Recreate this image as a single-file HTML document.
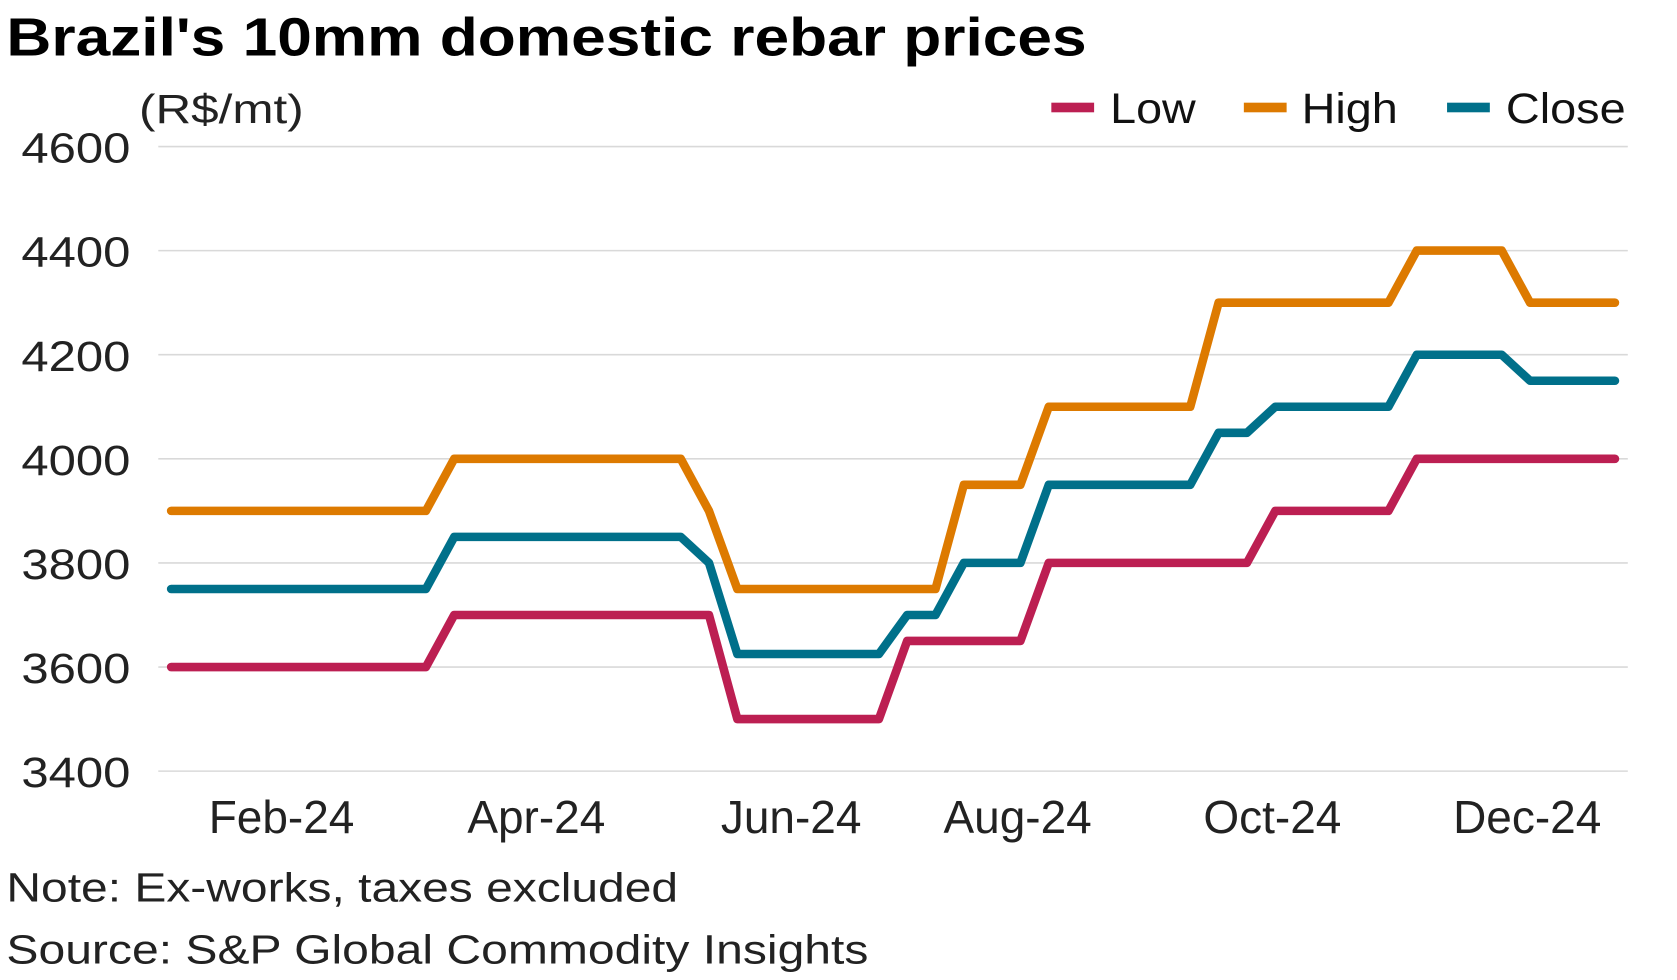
<!DOCTYPE html>
<html><head><meta charset="utf-8">
<style>
html,body{margin:0;padding:0;background:#fff;}
svg{display:block;font-family:"Liberation Sans",sans-serif;}
</style></head>
<body>
<svg id="chart" width="1677" height="980" viewBox="0 0 1568 916.3" xmlns="http://www.w3.org/2000/svg">
<text x="6" y="52" font-size="50" font-weight="bold" fill="#000" textLength="1010" lengthAdjust="spacingAndGlyphs">Brazil's 10mm domestic rebar prices</text>
<text x="130" y="115" font-size="38" fill="#222" textLength="154" lengthAdjust="spacingAndGlyphs">(R$/mt)</text>
<g>
<g><rect x="983" y="96" width="40" height="9" fill="#BC1F52"/><text x="1038" y="115" font-size="40" fill="#111" textLength="80" lengthAdjust="spacingAndGlyphs">Low</text></g>
<g><rect x="1163" y="96" width="40" height="9" fill="#DD7A00"/><text x="1217" y="115" font-size="40" fill="#111" textLength="90" lengthAdjust="spacingAndGlyphs">High</text></g>
<g><rect x="1353" y="96" width="40" height="9" fill="#00708A"/><text x="1408" y="115" font-size="40" fill="#111" textLength="112" lengthAdjust="spacingAndGlyphs">Close</text></g>
</g>
<g id="grid"></g>
<g id="yaxis"></g>
<g id="xaxis"></g>
<g id="series"></g>
<text x="6" y="843" font-size="38" fill="#222" textLength="628" lengthAdjust="spacingAndGlyphs">Note: Ex-works, taxes excluded</text>
<text x="6" y="901" font-size="38" fill="#222" textLength="806" lengthAdjust="spacingAndGlyphs">Source: S&amp;P Global Commodity Insights</text>
</svg>
<script>
const yTicks = [3400,3600,3800,4000,4200,4400,4600];
const xTickLabels = ["Feb-24","Apr-24","Jun-24","Aug-24","Oct-24","Dec-24"];
const xTickIndex = [3.9,12.9,21.9,29.9,38.9,47.9];
const lowValues = [3600,3600,3600,3600,3600,3600,3600,3600,3600,3600,3700,3700,3700,3700,3700,3700,3700,3700,3700,3700,3500,3500,3500,3500,3500,3500,3650,3650,3650,3650,3650,3800,3800,3800,3800,3800,3800,3800,3800,3900,3900,3900,3900,3900,4000,4000,4000,4000,4000,4000,4000,4000];
const highValues = [3900,3900,3900,3900,3900,3900,3900,3900,3900,3900,4000,4000,4000,4000,4000,4000,4000,4000,4000,3900,3750,3750,3750,3750,3750,3750,3750,3750,3950,3950,3950,4100,4100,4100,4100,4100,4100,4300,4300,4300,4300,4300,4300,4300,4400,4400,4400,4400,4300,4300,4300,4300];
const closeValues = [3750,3750,3750,3750,3750,3750,3750,3750,3750,3750,3850,3850,3850,3850,3850,3850,3850,3850,3850,3800,3625,3625,3625,3625,3625,3625,3700,3700,3800,3800,3800,3950,3950,3950,3950,3950,3950,4050,4050,4100,4100,4100,4100,4100,4200,4200,4200,4200,4150,4150,4150,4150];

const NS="http://www.w3.org/2000/svg";
const x0=160,x1=1510,plotL=148,plotR=1522;
const n=lowValues.length;
function xs(i){return x0+i*(x1-x0)/(n-1);}
function ys(v){return 721-(v-3400)*(721-137)/1200;}
const grid=document.getElementById('grid'),yax=document.getElementById('yaxis'),xax=document.getElementById('xaxis'),ser=document.getElementById('series');
yTicks.forEach(v=>{
  const l=document.createElementNS(NS,'line');
  
  
  l.setAttribute('x1',plotL);l.setAttribute('x2',plotR);l.setAttribute('y1',ys(v));l.setAttribute('y2',ys(v));
  l.setAttribute('stroke','#d9d9d9');l.setAttribute('stroke-width','1.5');
  grid.appendChild(l);
  const t=document.createElementNS(NS,'text');
  
  
  t.setAttribute('x',20);t.setAttribute('y',ys(v)+15);
  t.setAttribute('textLength','102');t.setAttribute('lengthAdjust','spacingAndGlyphs');
  t.setAttribute('font-size','40');t.setAttribute('fill','#222');t.textContent=v;
  yax.appendChild(t);
});
xTickLabels.forEach((s,k)=>{
  const t=document.createElementNS(NS,'text');
  
  
  t.setAttribute('x',xs(xTickIndex[k]));t.setAttribute('y',779);t.setAttribute('text-anchor','middle');
  t.setAttribute('font-size','43');t.setAttribute('fill','#222');t.textContent=s;
  xax.appendChild(t);
});
[[highValues,'#DD7A00','high-line'],[closeValues,'#00708A','close-line'],[lowValues,'#BC1F52','low-line']].forEach(([vals,c,name])=>{
  const p=document.createElementNS(NS,'polyline');
  
  
  p.setAttribute('points',vals.map((v,i)=>xs(i).toFixed(1)+','+ys(v).toFixed(1)).join(' '));
  p.setAttribute('fill','none');p.setAttribute('stroke',c);p.setAttribute('stroke-width','8');
  p.setAttribute('stroke-linejoin','round');p.setAttribute('stroke-linecap','round');
  ser.appendChild(p);
});
</script>
</body></html>
